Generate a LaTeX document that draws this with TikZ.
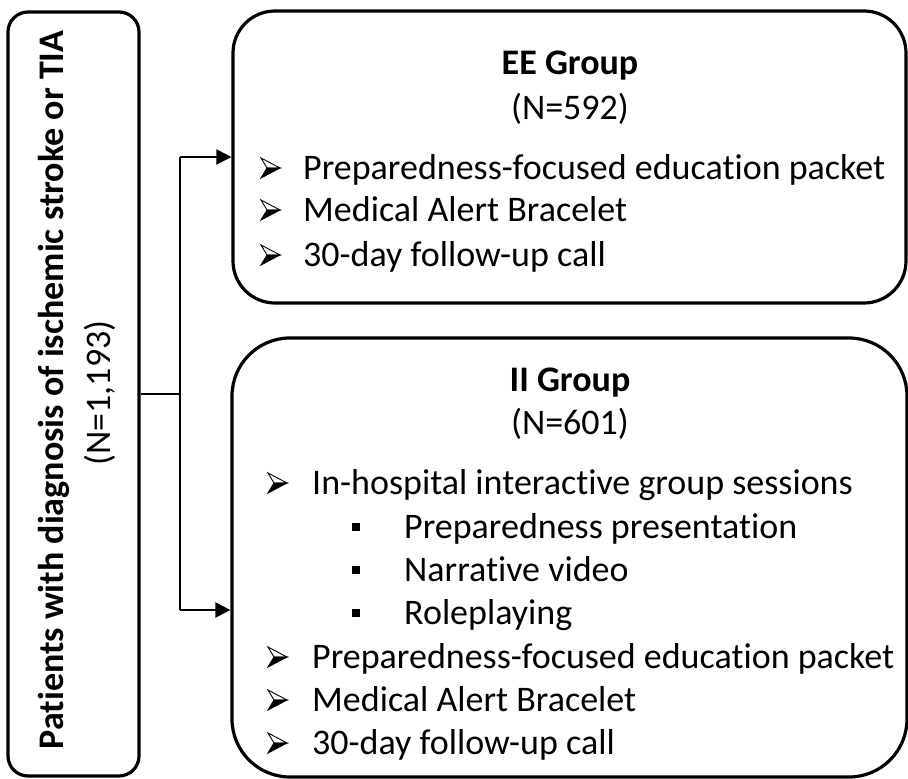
\documentclass[tikz,border=0pt]{standalone}
\usepackage{fontspec}
\setmainfont{Carlito}[Ligatures=NoCommon]
\usetikzlibrary{arrows.meta}
\tikzset{
  box/.style={draw, line width=3.2pt, rounded corners=#1, inner sep=0pt},
  txt/.style={anchor=base west, inner sep=0pt, font=\fontsize{36}{43}\selectfont},
  ttl/.style={anchor=base, inner sep=0pt, font=\fontsize{36}{43}\selectfont\bfseries},
  cnt/.style={anchor=base, inner sep=0pt, font=\fontsize{36}{43}\selectfont},
  sq/.style={fill, minimum size=8pt, inner sep=0pt},
  conn/.style={line width=2.2pt},
  arr/.style={conn, -{Triangle[length=15pt,width=15pt]}},
  arrbul/.pic={
    \filldraw[fill=white, line width=0.9pt, line join=miter] (0,-10) -- (19,0) -- (6,0) -- cycle;
    \filldraw[line width=0.9pt, line join=miter] (6,0) -- (19,0) -- (0,10) -- cycle;
  }
}
\begin{document}
\begin{tikzpicture}[x=1pt, y=-1pt]
\useasboundingbox (0,0) rectangle (908,779);
% left box
\node[box=20, minimum width=131pt, minimum height=764pt] (L) at (73.5,394) {};
\node[anchor=base, rotate=90, inner sep=0pt, font=\fontsize{36}{43}\selectfont\bfseries] (Lt1) at (63,390) {Patients with diagnosis of ischemic stroke or TIA};
\node[anchor=base, rotate=90, inner sep=0pt, font=\fontsize{36}{43}\selectfont] (Lt2) at (110,393) {(N=1,193)};
% right boxes
\node[box=42, minimum width=673pt, minimum height=292pt] (EE) at (569.5,157) {};
\node[box=58, minimum width=675pt, minimum height=439pt] (II) at (569.5,557.5) {};
% connectors
\coordinate (j) at (180,394);
\coordinate (jt) at (180,157);
\coordinate (jb) at (180,610);
\draw[conn] (L.east |- j) -- (j);
\draw[conn] (jt) -- (jb);
\draw[arr] (jt) -- (jt -| EE.west);
\draw[arr] (jb) -- (jb -| II.west);
% EE text
\node[ttl] (EEt) at (570,74) {EE Group};
\node[cnt] (EEn) at (570,119) {(N=592)};
\pic at (261,168) {arrbul};
\node[txt] (EE1) at (303,179) {Preparedness-focused education packet};
\pic at (261,210) {arrbul};
\node[txt] (EE2) at (303,221) {Medical Alert Bracelet};
\pic at (261,255) {arrbul};
\node[txt] (EE3) at (303,266) {30-day follow-up call};
% II text
\node[ttl] (IIt) at (570,391) {II Group};
\node[cnt] (IIn) at (570,434) {(N=601)};
\pic at (268,483) {arrbul};
\node[txt] (II1) at (312,494) {In-hospital interactive group sessions};
\node[sq] (IIs1) at (356,527) {};
\node[txt] (II1a) at (404,538) {Preparedness presentation};
\node[sq] (IIs2) at (356,570) {};
\node[txt] (II1b) at (404,581) {Narrative video};
\node[sq] (IIs3) at (356,613) {};
\node[txt] (II1c) at (404,624) {Roleplaying};
\pic at (268,657) {arrbul};
\node[txt] (II2) at (312,668) {Preparedness-focused education packet};
\pic at (268,700) {arrbul};
\node[txt] (II3) at (312,711) {Medical Alert Bracelet};
\pic at (268,743) {arrbul};
\node[txt] (II4) at (312,754) {30-day follow-up call};
\end{tikzpicture}
\end{document}
